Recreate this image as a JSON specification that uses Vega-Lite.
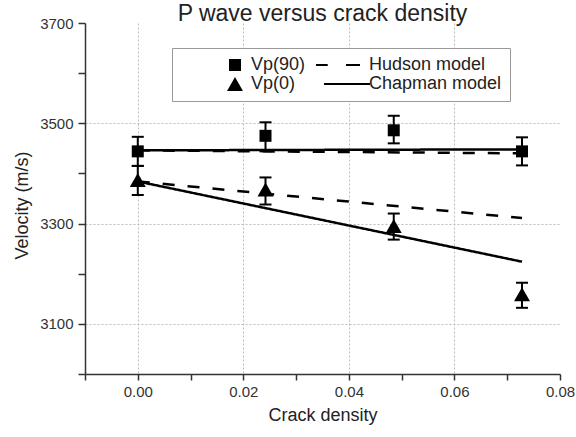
{
  "$schema": "https://vega.github.io/schema/vega-lite/v6.json",
  "width": 475,
  "height": 351,
  "autosize": "none",
  "padding": {"left": 85, "top": 23, "right": 16, "bottom": 63},
  "background": "white",
  "config": {"font": "Liberation Sans", "view": {"stroke": null}},
  "title": {"text": "P wave versus crack density", "fontSize": 23, "fontWeight": "normal", "color": "#222", "offset": -10, "anchor": "middle", "font": "Liberation Sans"},
  "datasets": {
    "pts": [
      {"series": "Vp(90)", "d": 0, "v": 3444, "lo": 3415, "hi": 3473},
      {"series": "Vp(90)", "d": 0.0242, "v": 3475, "lo": 3444, "hi": 3502},
      {"series": "Vp(90)", "d": 0.0485, "v": 3486, "lo": 3460, "hi": 3515},
      {"series": "Vp(90)", "d": 0.0728, "v": 3444, "lo": 3416, "hi": 3472},
      {"series": "Vp(0)", "d": 0, "v": 3387, "lo": 3357, "hi": 3415},
      {"series": "Vp(0)", "d": 0.0242, "v": 3368, "lo": 3338, "hi": 3392},
      {"series": "Vp(0)", "d": 0.0485, "v": 3295, "lo": 3268, "hi": 3320},
      {"series": "Vp(0)", "d": 0.0728, "v": 3159, "lo": 3132, "hi": 3182}
    ],
    "lines": [
      {"model": "Chapman model", "wave": "Vp(90)", "d": 0, "v": 3446},
      {"model": "Chapman model", "wave": "Vp(90)", "d": 0.0728, "v": 3448},
      {"model": "Hudson model", "wave": "Vp(90)", "d": 0, "v": 3446},
      {"model": "Hudson model", "wave": "Vp(90)", "d": 0.0728, "v": 3440},
      {"model": "Hudson model", "wave": "Vp(0)", "d": 0, "v": 3384},
      {"model": "Hudson model", "wave": "Vp(0)", "d": 0.0728, "v": 3311},
      {"model": "Chapman model", "wave": "Vp(0)", "d": 0, "v": 3384},
      {"model": "Chapman model", "wave": "Vp(0)", "d": 0.0728, "v": 3224}
    ]
  },
  "layer": [
    {
      "data": {"name": "lines"},
      "mark": {"type": "line", "color": "black", "strokeWidth": 2.5},
      "encoding": {
        "x": {
          "field": "d", "type": "quantitative", "title": "Crack density",
          "scale": {"domain": [-0.01, 0.08], "nice": false, "zero": false},
          "axis": {
            "values": [-0.01, 0, 0.01, 0.02, 0.03, 0.04, 0.05, 0.06, 0.07, 0.08],
            "labelExpr": "(datum.value >= 0 && round(datum.value*100) % 2 == 0) ? format(datum.value, '.2f') : ''",
            "titleFontSize": 18, "titleFontWeight": "normal", "titleColor": "#222", "titlePadding": 7,
            "labelFontSize": 15, "labelColor": "#333", "labelPadding": 4,
            "labelFlush": false, "labelOverlap": false,
            "domainColor": "#333", "domainWidth": 1.5,
            "tickColor": "#333", "tickWidth": 1.5, "tickSize": 6,
            "grid": true, "gridColor": "#bbb", "gridDash": [2, 2],
            "gridOpacity": {"condition": {"test": "datum.value >= 0 && datum.value < 0.075 && round(datum.value*100) % 2 == 0", "value": 1}, "value": 0}
          }
        },
        "y": {
          "field": "v", "type": "quantitative", "title": "Velocity (m/s)",
          "scale": {"domain": [3000, 3700], "nice": false, "zero": false},
          "axis": {
            "values": [3000, 3100, 3200, 3300, 3400, 3500, 3600, 3700],
            "labelExpr": "datum.value % 200 == 100 ? format(datum.value, 'd') : ''",
            "titleFontSize": 18, "titleFontWeight": "normal", "titleColor": "#222", "titlePadding": 8, "titleY": 182,
            "labelFontSize": 15, "labelColor": "#333", "labelPadding": 5,
            "labelOverlap": false,
            "domainColor": "#333", "domainWidth": 1.5,
            "tickColor": "#333", "tickWidth": 1.5, "tickSize": 7,
            "grid": true, "gridColor": "#bbb", "gridDash": [2, 2],
            "gridOpacity": {"condition": {"test": "datum.value % 200 == 100 && datum.value < 3700", "value": 1}, "value": 0}
          }
        },
        "strokeDash": {"field": "model", "type": "nominal", "scale": {"domain": ["Hudson model", "Chapman model"], "range": [[12, 13], [1, 0]]}, "legend": null},
        "detail": {"field": "wave"}
      }
    },
    {
      "data": {"name": "pts"},
      "mark": {"type": "rule", "color": "black", "strokeWidth": 2},
      "encoding": {
        "x": {"field": "d", "type": "quantitative", "title": "Crack density"},
        "y": {"field": "lo", "type": "quantitative", "title": "Velocity (m/s)"},
        "y2": {"field": "hi"}
      }
    },
    {
      "data": {"name": "pts"},
      "mark": {"type": "tick", "orient": "horizontal", "color": "black", "size": 12, "thickness": 2, "opacity": 1},
      "encoding": {
        "x": {"field": "d", "type": "quantitative", "title": "Crack density"},
        "y": {"field": "lo", "type": "quantitative", "title": "Velocity (m/s)"}
      }
    },
    {
      "data": {"name": "pts"},
      "mark": {"type": "tick", "orient": "horizontal", "color": "black", "size": 12, "thickness": 2, "opacity": 1},
      "encoding": {
        "x": {"field": "d", "type": "quantitative", "title": "Crack density"},
        "y": {"field": "hi", "type": "quantitative", "title": "Velocity (m/s)"}
      }
    },
    {
      "data": {"name": "pts"},
      "mark": {"type": "point", "filled": true, "color": "black", "size": 196, "opacity": 1},
      "encoding": {
        "x": {"field": "d", "type": "quantitative", "title": "Crack density"},
        "y": {"field": "v", "type": "quantitative", "title": "Velocity (m/s)"},
        "shape": {
          "field": "series", "type": "nominal",
          "scale": {
            "domain": ["Vp(90)", "Vp(0)", "Hudson model", "Chapman model"],
            "range": [
              "M-0.857,-0.857H0.857V0.857H-0.857Z",
              "M0,-1L1.14,1H-1.14Z",
              "M-5.29,-0.16H-3.61V0.16H-5.29ZM-1,-0.16H1V0.16H-1Z",
              "M-4.14,-0.16H2.43V0.16H-4.14Z"
            ]
          },
          "legend": {
            "orient": "none", "legendX": 87, "legendY": 25,
            "columns": 2,
            "title": " ", "titleOrient": "left", "titleFontSize": 1, "titlePadding": 46,
            "padding": 8, "strokeColor": "#999", "fillColor": "white",
            "labelFontSize": 18, "labelColor": "#222", "labelFont": "Liberation Sans",
            "labelOffset": 7, "columnPadding": 9, "rowPadding": 1,
            "symbolSize": 196, "symbolFillColor": "black", "symbolStrokeColor": "black", "symbolStrokeWidth": 0, "symbolOpacity": 1
          }
        }
      }
    }
  ]
}
